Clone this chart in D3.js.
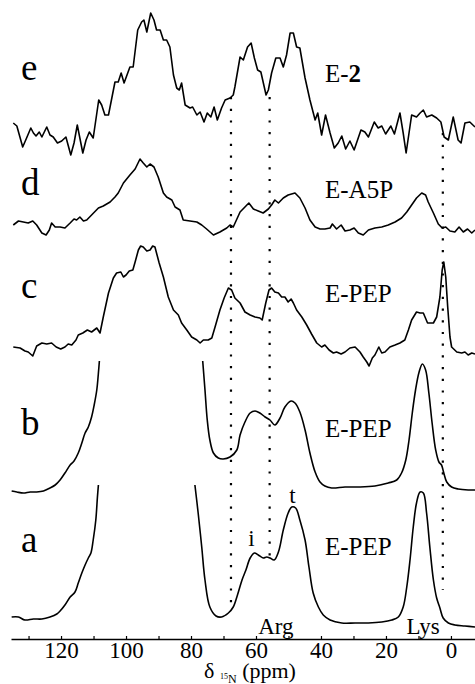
<!DOCTYPE html>
<html>
<head>
<meta charset="utf-8">
<script src="https://cdn.jsdelivr.net/npm/d3@7"></script>
</head>
<body style="margin:0">
<script>
// spectra, top to bottom
var spectra = ["e", "d", "c", "b", "a"],
sampleNames = ["E-2", "E-A5P", "E-PEP", "E-PEP", "E-PEP"];

// [ppm, intensity] pairs, null = clipped off the top
var specE = [[134.7,17],[133.6,14],[131.8,-7],[130.6,2],[129.3,12],[128.5,7],[127.7,4],[126.7,8],[125.9,3],[124.4,13],[123.4,5],[122.4,3],[121.1,-3],[119.8,-1],[118.5,3],[117.0,-15],[116.0,-3],[115.0,15],[113.3,-13],[112.3,0],[111.3,8],[110.1,2],[108.4,40],[107.5,35],[106.5,25],[105.4,25],[103.4,58],[102.4,58],[101.5,67],[100.6,57],[98.8,73],[97.8,73],[96.4,110],[95.2,118],[94.5,120],[93.6,108],[92.4,127],[91.4,120],[90.6,110],[89.5,110],[88.5,100],[87.5,100],[86.5,93],[85.4,65],[84.4,52],[83.6,50],[82.9,57],[81.8,35],[80.3,32],[79.5,33],[78.2,25],[77.2,28],[76.0,18],[75.0,27],[73.9,23],[72.9,33],[71.9,20],[70.6,32],[69.5,40],[68.0,42],[67.0,45],[66.5,53],[64.9,83],[63.9,80],[62.6,93],[61.5,97],[60.5,82],[59.5,70],[58.5,68],[56.9,45],[56.2,50],[55.2,67],[53.9,82],[52.6,82],[51.6,73],[50.6,85],[49.5,107],[48.5,107],[47.5,93],[46.5,92],[44.9,62],[43.4,40],[41.8,20],[41.0,27],[39.8,5],[38.6,25],[37.2,7],[35.9,-8],[34.7,-3],[33.6,4],[32.4,-9],[31.1,-1],[29.8,-10],[27.7,10],[26.5,8],[25.4,3],[23.6,18],[22.4,12],[21.3,14],[20.1,6],[18.5,14],[17.4,6],[15.7,27],[14.7,7],[13.8,-13],[12.1,25],[10.6,23],[9.5,27],[8.5,30],[7.5,23],[5.9,25],[4.4,22],[3.1,18],[2.1,3],[0.8,0],[-0.7,23],[-2.2,0],[-3.1,-3],[-4.3,17],[-5.8,18],[-7.4,13]];

var specD = [[134.7,3],[133.1,7],[131.6,6],[130.1,5],[128.7,7],[127.5,3],[125.9,-5],[124.6,-7],[123.6,-2],[122.9,5],[121.8,1],[120.3,1],[118.8,0],[117.2,5],[116.0,9],[115.2,8],[114.2,11],[113.1,7],[112.1,8],[110.6,13],[108.5,20],[107.0,22],[104.9,26],[103.4,31],[102.4,35],[100.8,45],[98.8,53],[97.2,59],[95.7,69],[94.7,65],[93.6,61],[92.6,64],[91.4,61],[90.1,51],[88.5,35],[87.5,31],[85.9,28],[84.9,21],[83.4,18],[82.4,8],[80.3,7],[78.2,6],[76.7,3],[75.2,-1],[73.1,-7],[71.1,-4],[69.0,0],[68.0,3],[67.0,1],[64.9,16],[63.4,21],[62.2,25],[60.8,19],[59.3,17],[57.8,15],[56.2,19],[55.2,23],[54.2,28],[53.1,25],[51.6,30],[50.1,33],[48.0,35],[46.5,30],[44.9,20],[43.4,8],[41.8,1],[40.3,-1],[38.8,-1],[37.2,0],[36.5,4],[35.2,-1],[33.8,3],[32.6,-3],[31.1,-2],[29.8,0],[28.5,-5],[27.0,-7],[25.4,-2],[23.4,0],[21.3,1],[19.3,3],[17.2,6],[15.2,10],[13.6,16],[12.1,23],[10.6,30],[9.0,35],[7.8,33],[7.0,26],[5.4,15],[3.9,4],[2.7,0],[1.6,1],[0.3,-3],[-1.2,-4],[-2.5,1],[-3.8,-4],[-5.1,-1],[-6.4,-5],[-7.4,-2]];

var specC = [[134.7,-2],[132.6,-3],[131.1,-6],[130.1,-7],[128.7,-11],[127.5,-1],[125.9,2],[124.4,1],[122.9,2],[121.5,-2],[120.1,-4],[118.8,-2],[117.8,1],[116.7,0],[115.4,5],[114.7,10],[113.3,12],[111.9,15],[110.6,13],[109.0,17],[108.0,12],[107.0,28],[105.4,52],[103.9,67],[102.9,72],[101.6,73],[100.8,68],[100.0,70],[99.0,74],[97.9,75],[97.2,83],[96.2,95],[95.5,99],[94.7,98],[93.6,94],[92.6,95],[91.8,99],[91.1,98],[89.8,82],[88.5,68],[87.0,48],[85.4,35],[83.9,30],[82.9,22],[81.3,15],[79.8,8],[78.2,5],[77.2,2],[76.2,5],[74.7,5],[73.6,7],[72.6,18],[71.1,35],[69.8,47],[68.5,57],[67.5,55],[66.5,47],[64.9,42],[63.4,33],[61.8,30],[60.3,28],[58.8,27],[58.1,25],[57.0,42],[56.0,55],[55.2,57],[54.2,53],[53.1,52],[52.1,48],[51.1,48],[50.1,43],[49.2,46],[48.5,42],[47.5,35],[45.9,28],[44.4,20],[42.9,11],[41.3,2],[39.8,-2],[38.8,0],[37.5,-5],[36.2,-8],[35.2,-7],[33.8,-9],[32.6,-7],[31.1,-3],[29.5,-2],[28.0,-7],[27.0,-12],[25.9,-17],[25.2,-21],[24.2,-13],[23.4,-10],[22.2,-2],[21.3,-8],[20.3,-7],[18.8,-2],[17.2,0],[15.7,2],[14.2,5],[13.1,15],[12.1,25],[10.6,33],[9.5,32],[8.5,32],[7.2,22],[5.4,22],[4.4,28],[3.4,48],[2.7,75],[2.2,83],[1.6,68],[1.0,38],[0.3,8],[-0.2,-2],[-1.8,-7],[-3.3,-8],[-4.3,-7],[-5.3,-10],[-6.4,-8],[-7.4,-9]];

var specB = [[135.2,-3],[133.6,-4],[131.6,-5],[129.5,-4],[127.5,-4],[125.4,-3],[123.4,0],[121.8,3],[120.3,8],[118.8,15],[117.2,23],[116.0,27],[114.7,35],[113.6,45],[112.6,55],[111.6,61],[110.6,71],[109.8,83],[109.0,98],[108.5,115],[108.2,127],[100,null],[76.4,127],[75.7,98],[75.0,68],[74.2,48],[73.1,35],[71.6,30],[70.1,29],[68.0,31],[65.9,38],[64.9,53],[63.4,66],[61.8,75],[60.3,77],[58.8,75],[57.2,71],[55.7,68],[54.2,63],[52.6,70],[51.1,81],[49.2,87],[48.0,85],[46.5,76],[44.9,58],[43.4,35],[41.8,16],[40.3,6],[38.8,2],[36.7,0],[32.6,1],[28.5,1],[23.4,2],[19.3,5],[16.7,8],[15.2,15],[13.9,28],[12.9,48],[11.9,75],[10.9,98],[9.8,116],[8.8,124],[7.8,118],[6.8,95],[5.8,65],[4.7,38],[3.7,26],[2.9,23],[2.2,15],[1.3,6],[-0.2,1],[-2.2,-1],[-5.3,-2],[-7.4,-2]];

var specA = [[135.2,5],[133.1,5],[131.1,2],[128.5,3],[125.9,3],[123.4,5],[121.3,8],[120.3,11],[118.8,17],[117.2,25],[115.7,30],[114.7,39],[113.6,49],[112.6,57],[111.6,64],[110.8,69],[110.1,82],[109.3,102],[108.8,125],[108.5,137],[100,null],[78.8,137],[77.8,109],[76.7,75],[75.7,42],[74.2,15],[72.3,6],[70.6,5],[68.5,9],[67.0,15],[65.7,27],[64.3,42],[63.1,52],[61.8,64],[60.5,69],[59.3,67],[57.8,64],[56.7,65],[55.7,64],[54.4,62],[53.1,70],[51.6,92],[50.1,109],[49.0,115],[47.8,114],[46.5,102],[44.9,82],[43.7,55],[42.4,29],[40.8,15],[39.3,7],[37.2,2],[33.6,-1],[29.5,-1],[25.4,-1],[21.3,0],[18.2,2],[16.2,5],[14.7,15],[13.6,35],[12.6,62],[11.6,95],[10.6,119],[9.5,130],[8.5,129],[7.5,109],[6.5,75],[5.4,42],[4.4,24],[3.4,14],[2.4,4],[0.8,-1],[-1.2,-3],[-4.3,-4],[-7.4,-5]];

var allSpectra = [specE, specD, specC, specB, specA];

// axis ticks (ppm)
var ppmTicks = [130,120,110,100,90,80,70,60,50,40,30,20,10,0],
labelledTicks = [120,100,80,60,40,20,0];

// dotted reference lines (ppm)
var markers = [67.7, 55.8, 2.5];

// peak and residue labels
var peakLabels = [["i", 61.4], ["t", 48.8]],
residueLabels = [["Arg", 53.9], ["Lys", 8.6]];

var width = 475, height = 684,
serif = "'Liberation Serif'";

var svg = d3.select("body").append("svg")
	.attr("width", width)
	.attr("height", height);

var x = d3.scaleLinear().domain([135.4, -7.4]).range([11, width]);
var baseline = d3.scaleOrdinal().domain(spectra).range([140, 228, 345, 488, 622]);
var inten = d3.scaleLinear().domain([0, 100]).range([0, -100]);

// Dotted guide lines (behind the traces)
var markerSpan = [[97, 603], [97, 556], [133, 590]];
svg.append("g").selectAll("line")
	.data(markers)
	.enter().append("line")
	.attr("x1", d => x(d)).attr("x2", d => x(d))
	.attr("y1", (d, i) => markerSpan[i][0])
	.attr("y2", (d, i) => markerSpan[i][1])
	.attr("stroke", "#000")
	.attr("stroke-width", 2.2)
	.attr("stroke-dasharray", "2.2,9.5");

// Traces
spectra.forEach(function(s, i){
	var smooth = (s === "a" || s === "b");
	var line = d3.line()
		.defined(d => d[1] !== null)
		.x(d => x(d[0]))
		.y(d => baseline(s) + inten(d[1]))
		.curve(smooth ? d3.curveCatmullRom : d3.curveLinear);
	svg.append("path")
		.datum(allSpectra[i])
		.attr("d", line)
		.attr("fill", "none")
		.attr("stroke", "#000")
		.attr("stroke-width", 1.6)
		.attr("stroke-linejoin", "round");
});

// Letter labels at left
var letterY = [80, 195, 298, 435, 552];
svg.selectAll("text.letter")
	.data(spectra)
	.enter().append("text")
	.attr("class", "letter")
	.attr("x", 21)
	.attr("y", (d, i) => letterY[i])
	.attr("font-size", 37)
	.style("font-family", serif)
	.text(d => d);

// Sample names at right
var nameY = [82, 198, 302, 437, 555];
svg.selectAll("text.name")
	.data(sampleNames)
	.enter().append("text")
	.attr("class", "name")
	.attr("x", 325)
	.attr("y", (d, i) => nameY[i])
	.attr("font-size", 25)
	.style("font-family", serif)
	.each(function(d){
		var t = d3.select(this);
		if (d === "E-2") {
			t.append("tspan").text("E-");
			t.append("tspan").attr("font-weight", "bold").text("2");
		}
		else { t.text(d); }
	});

// i / t peak labels
var peakY = [546, 503];
svg.selectAll("text.peak")
	.data(peakLabels)
	.enter().append("text")
	.attr("class", "peak")
	.attr("x", d => x(d[1]))
	.attr("y", (d, i) => peakY[i])
	.attr("text-anchor", "middle")
	.attr("font-size", 23)
	.style("font-family", serif)
	.text(d => d[0]);

svg.selectAll("text.residue")
	.data(residueLabels)
	.enter().append("text")
	.attr("class", "residue")
	.attr("x", d => x(d[1]))
	.attr("y", 634)
	.attr("text-anchor", "middle")
	.attr("font-size", 23)
	.style("font-family", serif)
	.text(d => d[0]);

// Axis
var axis = d3.axisBottom(x)
	.tickValues(ppmTicks)
	.tickSize(-3)
	.tickSizeOuter(0)
	.tickPadding(3)
	.tickFormat(d => labelledTicks.indexOf(d) >= 0 ? d : "");
var gx = svg.append("g")
	.attr("transform", "translate(0,639)")
	.call(axis);
gx.attr("font-size", 23);
gx.selectAll("text").style("font-family", serif);
gx.select(".domain").attr("stroke-width", 1.6);
gx.selectAll(".tick line").attr("stroke-width", 1.2);

// Axis title
var title = svg.append("text")
	.attr("x", 250)
	.attr("y", 678)
	.attr("text-anchor", "middle")
	.attr("font-size", 22)
	.style("font-family", serif);
title.append("tspan").text("δ ");
title.append("tspan").attr("font-size", 8).attr("dy", 1).text("15");
title.append("tspan").attr("font-size", 12).attr("dy", 4).text("N");
title.append("tspan").attr("dy", -5).text(" (ppm)");
</script>
</body>
</html>
